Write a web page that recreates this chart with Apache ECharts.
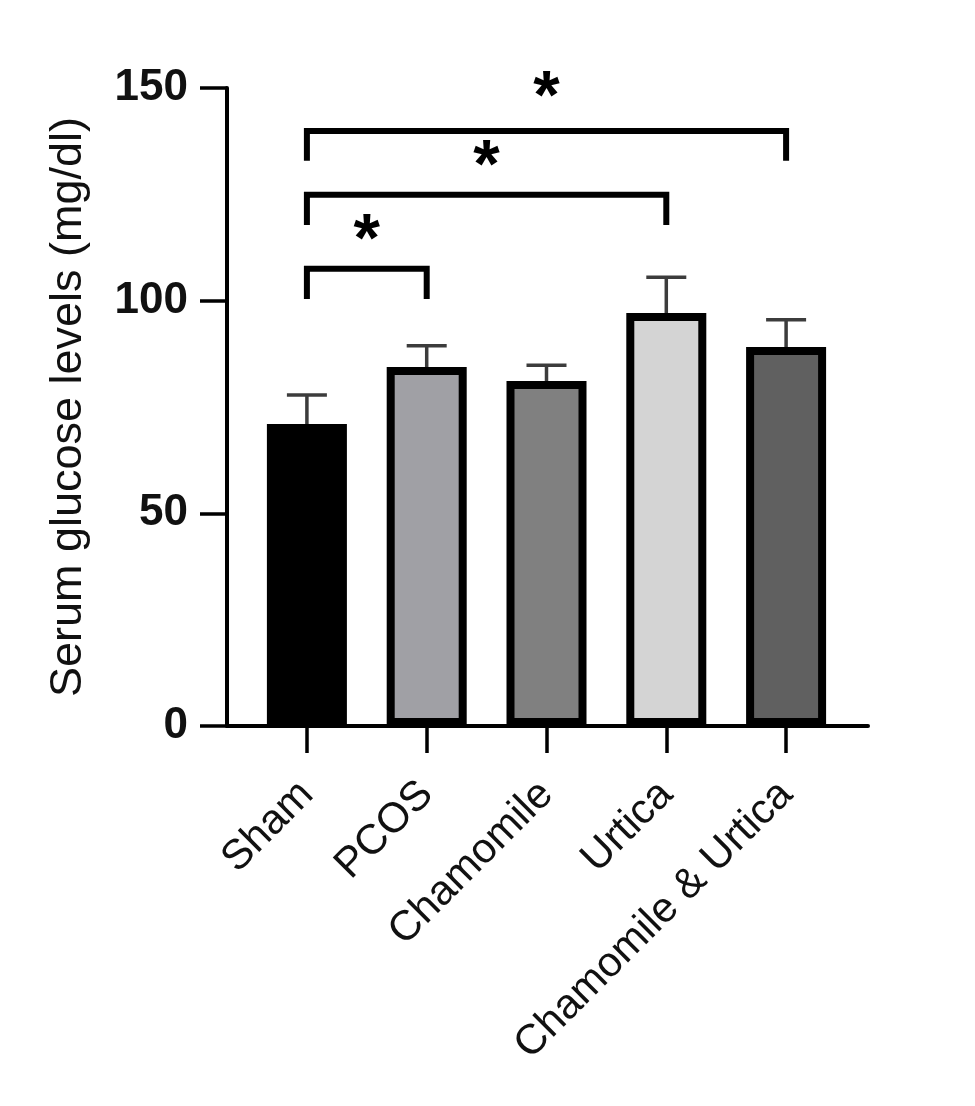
<!DOCTYPE html>
<html>
<head>
<meta charset="utf-8">
<script src="https://cdn.jsdelivr.net/npm/echarts@6/dist/echarts.min.js"></script>
<style>html,body{margin:0;padding:0;background:#fff;}#chart{width:975px;height:1106px;}</style>
</head>
<body>
<div id="chart"></div>
<script>
// ---- data ----
const categories = ['Sham', 'PCOS', 'Chamomile', 'Urtica', 'Chamomile & Urtica'];
const means = [71.0, 84.4, 81.1, 97.1, 89.1];
const errUpper = [77.8, 89.4, 84.8, 105.5, 95.5];
const barColors = ['#000000', '#a0a0a5', '#808080', '#d4d4d4', '#606060'];
const yTicks = [0, 50, 100, 150];
const bracketFrom = [0, 0, 0];
const bracketTo = [1, 3, 4];
const bracketY = [107.5, 124.9, 139.9];
const bracketLegY = [100.4, 117.8, 132.9];
const starY = [116.6, 133.9, 150.2];
const starText = ['*', '*', '*'];

const FONT = 'Liberation Sans, Arial, sans-serif';
const chart = echarts.init(document.getElementById('chart'), null, {renderer: 'canvas'});

const barData = means.map((v, i) => ({
  value: v,
  itemStyle: {color: barColors[i], borderColor: '#000', borderWidth: 8}
}));
const errData = means.map((v, i) => [i, v, errUpper[i]]);
const brData = bracketFrom.map((f, k) => [f, bracketTo[k], bracketY[k], bracketLegY[k], starY[k]]);

const option = {
  animation: false,
  backgroundColor: '#fff',
  grid: [
    {left: 247, right: 129, top: 88, bottom: 380},
    {left: 227, right: 107, top: 88, bottom: 380}
  ],
  xAxis: [
    {
      type: 'category', gridIndex: 0, data: categories, boundaryGap: true,
      axisLine: {show: false},
      axisTick: {show: true, alignWithLabel: true, length: 27, lineStyle: {color: '#000', width: 3.5}},
      axisLabel: {rotate: 45, margin: 62, interval: 0, color: '#111', fontSize: 42, fontFamily: FONT}
    },
    {
      type: 'value', gridIndex: 1, min: 0, max: 1,
      axisLine: {show: true, lineStyle: {color: '#000', width: 4}},
      axisTick: {show: false}, axisLabel: {show: false}, splitLine: {show: false}
    }
  ],
  yAxis: [
    {type: 'value', gridIndex: 0, min: 0, max: 150, interval: 50, show: false, splitLine: {show: false}},
    {
      type: 'value', gridIndex: 1, min: 0, max: 150, interval: 50,
      name: 'Serum glucose levels (mg/dl)', nameLocation: 'middle', nameGap: 136,
      nameTextStyle: {fontSize: 45, color: '#111', fontFamily: FONT},
      axisLine: {show: true, lineStyle: {color: '#000', width: 4}},
      axisTick: {show: true, length: 27, lineStyle: {color: '#000', width: 3.5}},
      axisLabel: {margin: 39, fontSize: 44, fontWeight: 'bold', color: '#111', fontFamily: FONT,
        formatter: v => yTicks.indexOf(v) >= 0 ? String(v) : ''},
      splitLine: {show: false}
    }
  ],
  series: [
    {
      type: 'custom', xAxisIndex: 0, yAxisIndex: 0, z: 1, data: errData, clip: false,
      renderItem: function (params, api) {
        const i = api.value(0);
        const base = api.coord([i, api.value(1)]);
        const top = api.coord([i, api.value(2)]);
        const hw = 20;
        const st = {stroke: '#3c3c3c', lineWidth: 3.5};
        return {type: 'group', children: [
          {type: 'line', shape: {x1: top[0], y1: base[1], x2: top[0], y2: top[1]}, style: st},
          {type: 'line', shape: {x1: top[0] - hw, y1: top[1], x2: top[0] + hw, y2: top[1]}, style: st}
        ]};
      }
    },
    {
      type: 'bar', xAxisIndex: 0, yAxisIndex: 0, z: 2, barWidth: 80, data: barData
    },
    {
      type: 'custom', xAxisIndex: 0, yAxisIndex: 0, z: 3, data: brData, clip: false,
      renderItem: function (params, api) {
        const a = api.coord([api.value(0), api.value(2)]);
        const b = api.coord([api.value(1), api.value(2)]);
        const legA = api.coord([api.value(0), api.value(3)]);
        const s = api.coord([api.value(0), api.value(4)]);
        const fs = 68;
        return {type: 'group', children: [
          {type: 'polyline', shape: {points: [[a[0], legA[1]], [a[0], a[1]], [b[0], b[1]], [b[0], legA[1]]]},
            style: {stroke: '#000', lineWidth: 6, fill: null, lineJoin: 'miter', lineCap: 'butt'}},
          {type: 'text', x: (a[0] + b[0]) / 2, y: s[1] + fs * 0.18,
            style: {text: starText[params.dataIndex], fontSize: fs, fontWeight: 'bold', fontFamily: FONT,
              fill: '#000', align: 'center', verticalAlign: 'middle'}}
        ]};
      }
    }
  ]
};
chart.setOption(option);
</script>
</body>
</html>
